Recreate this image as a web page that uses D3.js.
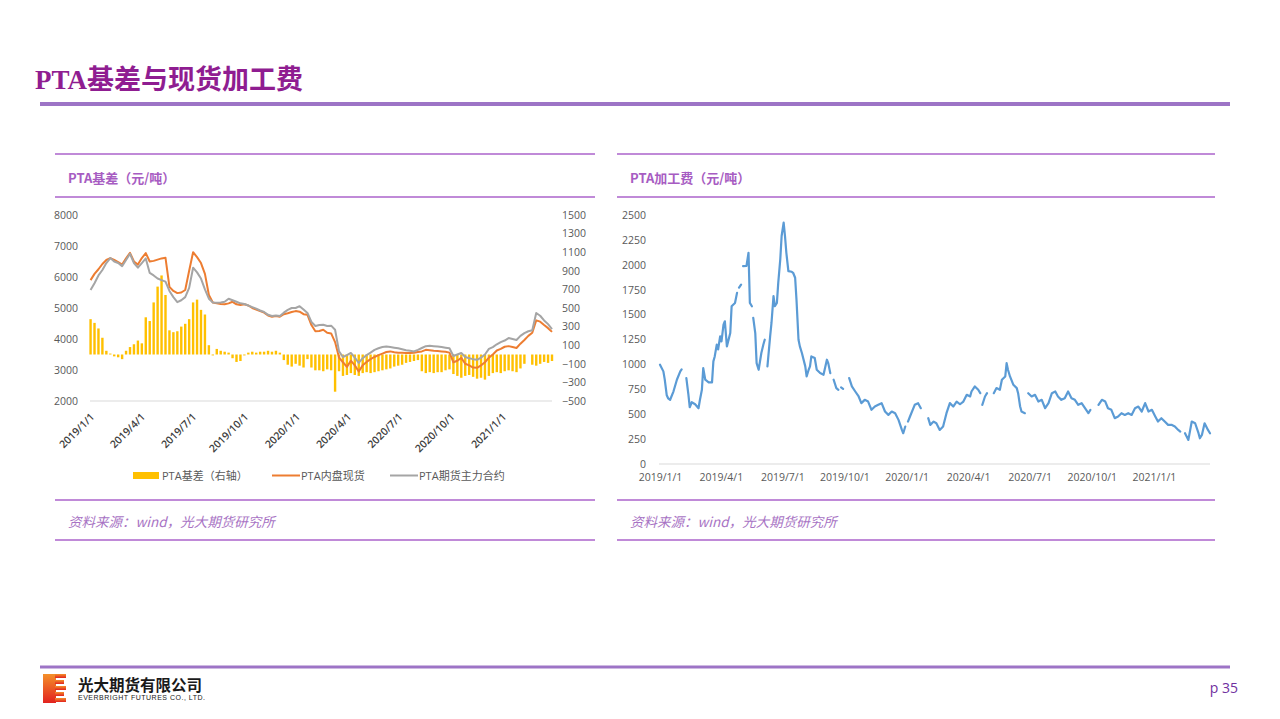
<!DOCTYPE html>
<html>
<head>
<meta charset="utf-8">
<script src="https://cdn.jsdelivr.net/npm/d3@7.9.0/dist/d3.min.js"></script>
<style>
  body { margin: 0; background: #fff; }
  svg { display: block; }
</style>
</head>
<body>
<svg id="page" width="1280" height="719"></svg>
<script>
// ============= DATA ==================

// PTA basis chart: weekly samples, first one on 2019-01-02
const basisStart = new Date(2019, 0, 2);
const basisStep = 7;

// PTA内盘现货 (元/吨, left axis)
const spot = [
  5900, 6100, 6250, 6420, 6550, 6610, 6550, 6480, 6400, 6600,
  6780, 6500, 6400, 6610, 6770, 6500, 6520, 6560, 6600, 6620,
  5680, 5550, 5480, 5500, 5580, 6200, 6800, 6640, 6450, 6100,
  5420, 5180, 5150, 5130, 5120, 5150, 5200, 5120, 5100, 5120,
  5080, 5000, 4950, 4900, 4850, 4760, 4720, 4740, 4720, 4800,
  4830, 4870, 4900, 4880, 4800, 4780, 4450, 4250, 4260, 4300,
  4200, 4180, 3900, 3400, 3250, 3100, 3300, 3150, 2950, 3150,
  3260, 3350, 3420, 3480, 3530, 3580, 3600, 3570, 3560, 3560,
  3550, 3550, 3560, 3580, 3600, 3650, 3640, 3620, 3610, 3600,
  3590, 3560, 3250, 3300, 3390, 3200, 3150, 3080, 3070, 3150,
  3250, 3400, 3500, 3630, 3680, 3750, 3770, 3740, 3710, 3850,
  3970, 4100, 4200, 4600, 4560, 4450, 4350, 4230
];

// PTA期货主力合约 (元/吨, left axis)
const futures = [
  5580, 5800, 6050, 6225, 6450, 6610, 6500, 6450, 6350, 6550,
  6750, 6450, 6300, 6450, 6600, 6130, 6050, 5950, 5900, 5850,
  5550, 5350, 5190, 5250, 5350, 5650, 6300, 6150, 5950, 5600,
  5300, 5180, 5170, 5180, 5200, 5300, 5250, 5200, 5150, 5130,
  5080, 5030, 4980, 4920, 4870, 4780, 4740, 4760, 4740, 4850,
  4940, 5000, 5000, 5060, 4950, 4840, 4550, 4420, 4450, 4460,
  4420, 4430, 4300, 3600, 3420, 3480, 3550, 3400, 3230, 3380,
  3480, 3560, 3650, 3700, 3740, 3760, 3740, 3720, 3700, 3670,
  3640, 3620, 3600, 3650, 3710, 3770, 3780, 3770, 3760, 3740,
  3720, 3700, 3450, 3500, 3550, 3420, 3380, 3350, 3330, 3400,
  3500, 3680, 3740, 3830, 3900, 3950, 4030, 4000, 3970, 4100,
  4190, 4250, 4280, 4840, 4750, 4600, 4480, 4320
];

// PTA基差 (元/吨, right axis)
const basis = [
  380, 340, 280, 180, 40, 10, -20, -30, -50, 40,
  80, 110, 150, 120, 400, 360, 560, 730, 850, 640,
  260, 240, 250, 300, 330, 380, 560, 590, 480, 430,
  100, -10, 60, 40, 30, 20, -40, -80, -70, -10,
  20, 30, 20, 30, 30, 40, 30, 40, 20, -60,
  -110, -130, -100, -120, -140, -50, -140, -170, -170, -180,
  -160, -170, -400, -180, -230, -220, -200, -220, -230, -200,
  -190, -200, -190, -180, -170, -160, -150, -130, -120, -110,
  -90, -80, -70, -60, -180, -200, -190, -200, -190, -190,
  -170, -160, -210, -230, -250, -230, -220, -240, -260, -250,
  -270, -230, -200, -190, -200, -180, -170, -180, -190, -150,
  -100, null, -110, -120, -100, -80, -90, -70
];

const leftTicks = [2000, 3000, 4000, 5000, 6000, 7000, 8000];
const rightTicks = [-500, -300, -100, 100, 300, 500, 700, 900, 1100, 1300, 1500];
const dateLabels = ["2019/1/1", "2019/4/1", "2019/7/1", "2019/10/1", "2020/1/1",
  "2020/4/1", "2020/7/1", "2020/10/1", "2021/1/1"];

// PTA加工费: days after 2019-01-01, null = gap in the line
const feeDays = [
  0, 5, 7, 10, 12, 15, 20, 25, 30, 32,
  35, 39, 42, 44, 47, 52, 57, 59, 62, 64,
  67, 72, 77, 79, 81, 84, 86, 89, 91, 94,
  96, 99, 104, 106, 111, 114, 116, 117, 120, 121,
  123, 128, 131, 133, 136, 137, 138, 141, 143, 146,
  150, 153, 155, 157, 159, 163, 165, 168, 170, 173,
  175, 178, 180, 183, 185, 187, 190, 195, 197, 200,
  202, 205, 207, 210, 215, 217, 220, 222, 224, 229,
  232, 237, 242, 247, 249, 252, 254, 257, 261, 264,
  266, 268, 271, 273, 280, 284, 289, 294, 298, 303,
  308, 313, 318, 323, 328, 333, 338, 343, 348, 353,
  358, 360, 363, 364, 367, 370, 377, 382, 386, 390,
  397, 400, 405, 409, 414, 419, 424, 429, 434, 439,
  444, 449, 454, 459, 461, 466, 471, 474, 475, 477,
  481, 484, 487, 494, 498, 503, 506, 511, 513, 515,
  518, 523, 528, 530, 533, 535, 540, 542, 545, 550,
  555, 560, 565, 570, 575, 580, 585, 589, 594, 599,
  604, 609, 614, 619, 624, 629, 634, 637, 640, 649,
  654, 659, 663, 668, 673, 678, 683, 688, 693, 698,
  703, 708, 713, 718, 723, 728, 733, 737, 742, 747,
  752, 757, 762, 767, 770, 773, 777, 782, 787, 792,
  797, 799, 802, 806, 811, 814
];
const feeValues = [
  997, 930, 850, 690, 660, 645, 730, 846, 930, 950,
  null, 862, 700, 570, 620, 600, 560, 640, 745, 963,
  846, 820, 820, 1030, 1080, 1198, 1150, 1282, 1230, 1400,
  1433, 1181, 1315, 1584, 1617, 1718, null, 1770, 1800, null,
  1987, 1990, 2121, 1617, 1584, null, 1467, 1315, 1013, 946,
  1114, 1200, 1248, null, 980, 1282, 1416, 1685, 1584, 1617,
  1819, 2054, 2289, 2423, 2289, 2121, 1936, 1930, 1920, 1870,
  1651, 1248, 1181, 1114, 980, 880, 946, 980, 1080, 1064,
  946, 913, 896, 1047, 1013, 913, null, 846, 762, 745,
  null, 770, 755, null, 862, 779, 728, 678, 611, 644,
  627, 544, 577, 594, 611, 527, 493, 527, 510, 443,
  342, 309, 376, null, 426, 477, 594, 611, 560, null,
  460, 393, 426, 409, 342, 376, 510, 611, 577, 627,
  600, 627, 695, 678, 728, 779, 745, 711, null, 594,
  678, 711, null, 711, 762, 745, 846, 879, 1013, 946,
  879, 795, 762, 711, 577, 527, 510, null, 711, 678,
  695, 627, 644, 560, 611, 711, 728, 678, 644, 661,
  728, 661, 644, 594, 611, 560, 510, 543, null, 594,
  644, 627, 560, 544, 460, 477, 510, 493, 510, 493,
  560, 577, 527, 611, 527, 544, 477, 426, 460, 426,
  393, 393, 376, 342, 326, null, 309, 242, 426, 409,
  309, 258, 292, 409, 342, 309
];
const feeTicks = [0, 250, 500, 750, 1000, 1250, 1500, 1750, 2000, 2250, 2500];

// ============= PAGE FRAME ==================

const svg = d3.select("#page");
const purple = "#9d74c6";
const panelLine = "#c08ad8";
const cjk = "'Noto Sans CJK SC', sans-serif";
const axisFont = "'Open Sans', 'Noto Sans CJK SC', sans-serif";
const parseLabel = d3.timeParse("%Y/%m/%d");
const tickDates = dateLabels.map(parseLabel);
const plain = d3.format("d");

svg.append("text")
  .attr("x", 35).attr("y", 89)
  .attr("font-family", "'Liberation Serif', 'Noto Sans CJK SC', serif")
  .attr("font-weight", "bold")
  .attr("font-size", 27)
  .attr("fill", "#8f1d91")
  .text("PTA基差与现货加工费");

svg.append("rect")
  .attr("x", 40).attr("y", 102).attr("width", 1190).attr("height", 4)
  .attr("fill", purple);

function panel(x0, x1, title) {
  [154, 197, 500, 540].forEach(y => {
    svg.append("line")
      .attr("x1", x0).attr("x2", x1).attr("y1", y).attr("y2", y)
      .attr("stroke", panelLine).attr("stroke-width", 2);
  });
  svg.append("text")
    .attr("x", x0 + 13).attr("y", 183)
    .attr("font-family", cjk).attr("font-weight", "bold").attr("font-size", 13)
    .attr("fill", "#a75cc2")
    .text(title);
  svg.append("text")
    .attr("x", x0 + 13).attr("y", 527)
    .attr("font-family", cjk).attr("font-style", "italic").attr("font-size", 13.5)
    .attr("fill", "#a873c4")
    .text("资料来源：wind，光大期货研究所");
}
panel(55, 595, "PTA基差（元/吨）");
panel(617, 1215, "PTA加工费（元/吨）");

function styleAxis(g) {
  g.select(".domain").remove();
  g.selectAll("text")
    .attr("font-family", axisFont).attr("font-size", 10.5).attr("fill", "#595959");
}

// ============= LEFT: BASIS CHART ==================

const weeks = spot.map((_, i) => d3.timeDay.offset(basisStart, i * basisStep));
const rows = weeks.map((d, i) => ({ date: d, spot: spot[i], fut: futures[i], basis: basis[i] }));

const xL = d3.scaleTime().domain([new Date(2019, 0, 1), new Date(2021, 2, 31)]).range([90, 552]);
const yL = d3.scaleLinear().domain([2000, 8000]).range([401, 215]);
const yR = d3.scaleLinear().domain([-500, 1500]).range([401, 215]);

const left = svg.append("g");

left.append("g")
  .attr("transform", "translate(90,0)")
  .call(d3.axisLeft(yL).tickValues(leftTicks).tickFormat(plain).tickSize(0).tickPadding(12))
  .call(styleAxis);

left.append("g")
  .attr("transform", "translate(552,0)")
  .call(d3.axisRight(yR).tickValues(rightTicks).tickFormat(plain).tickSize(0).tickPadding(10))
  .call(styleAxis);

left.selectAll("rect.bar")
  .data(rows.filter(d => d.basis != null))
  .join("rect")
  .attr("class", "bar")
  .attr("x", d => xL(d.date) - 1.2)
  .attr("width", 2.4)
  .attr("y", d => Math.min(yR(0), yR(d.basis)))
  .attr("height", d => Math.abs(yR(d.basis) - yR(0)))
  .attr("fill", "#FFC000");

left.append("line")
  .attr("x1", 90).attr("x2", 552).attr("y1", 401).attr("y2", 401)
  .attr("stroke", "#d9d9d9").attr("stroke-width", 1.2);

const xAxisL = left.append("g")
  .attr("transform", "translate(0,401)")
  .call(d3.axisBottom(xL).tickValues(tickDates).tickSize(0)
    .tickFormat((d, i) => dateLabels[i]))
  .call(styleAxis);
xAxisL.selectAll("text")
  .attr("text-anchor", "end")
  .attr("font-weight", 600)
  .attr("fill", "#404040")
  .attr("x", 0).attr("y", 0).attr("dy", "0.35em")
  .attr("transform", "translate(2,14) rotate(-45)");

const lineSpot = d3.line().x(d => xL(d.date)).y(d => yL(d.spot));
const lineFut = d3.line().x(d => xL(d.date)).y(d => yL(d.fut));

left.append("path").datum(rows)
  .attr("d", lineSpot).attr("fill", "none")
  .attr("stroke", "#ED7D31").attr("stroke-width", 2).attr("stroke-linejoin", "round");
left.append("path").datum(rows)
  .attr("d", lineFut).attr("fill", "none")
  .attr("stroke", "#A5A5A5").attr("stroke-width", 2).attr("stroke-linejoin", "round");

// legend
const legend = [
  { label: "PTA基差（右轴）", color: "#FFC000", type: "rect", x: 133 },
  { label: "PTA内盘现货", color: "#ED7D31", type: "line", x: 272 },
  { label: "PTA期货主力合约", color: "#A5A5A5", type: "line", x: 390 }
];
const lg = left.append("g");
legend.forEach(l => {
  if (l.type === "rect") {
    lg.append("rect").attr("x", l.x).attr("y", 472).attr("width", 26).attr("height", 7).attr("fill", l.color);
  } else {
    lg.append("line").attr("x1", l.x).attr("x2", l.x + 28).attr("y1", 475.5).attr("y2", 475.5)
      .attr("stroke", l.color).attr("stroke-width", 2);
  }
  lg.append("text")
    .attr("x", l.x + 29).attr("y", 479.5)
    .attr("font-family", axisFont).attr("font-size", 11).attr("fill", "#595959")
    .text(l.label);
});

// ============= RIGHT: PROCESSING FEE ==================

const fee = feeDays.map((d, i) => ({ date: d3.timeDay.offset(new Date(2019, 0, 1), d), v: feeValues[i] }));

const xF = d3.scaleTime().domain([new Date(2019, 0, 1), new Date(2021, 2, 25)]).range([660, 1210]);
const yF = d3.scaleLinear().domain([0, 2500]).range([464, 215]);

const right = svg.append("g");

right.append("g")
  .attr("transform", "translate(659,0)")
  .call(d3.axisLeft(yF).tickValues(feeTicks).tickFormat(plain).tickSize(0).tickPadding(13))
  .call(styleAxis);

right.append("line")
  .attr("x1", 659).attr("x2", 1210).attr("y1", 464).attr("y2", 464)
  .attr("stroke", "#d9d9d9").attr("stroke-width", 1.2);

right.append("g")
  .attr("transform", "translate(0,464)")
  .call(d3.axisBottom(xF).tickValues(tickDates).tickSize(0).tickPadding(10)
    .tickFormat((d, i) => dateLabels[i]))
  .call(styleAxis);

const lineFee = d3.line()
  .defined(d => d.v != null)
  .x(d => xF(d.date))
  .y(d => yF(d.v));

right.append("path").datum(fee)
  .attr("d", lineFee).attr("fill", "none")
  .attr("stroke", "#5B9BD5").attr("stroke-width", 2.2)
  .attr("stroke-linejoin", "round").attr("stroke-linecap", "round");

// ============= FOOTER ==================

svg.append("rect")
  .attr("x", 40).attr("y", 665.5).attr("width", 1190).attr("height", 3)
  .attr("fill", purple);

const defs = svg.append("defs");
const grad = defs.append("linearGradient").attr("id", "logoGrad")
  .attr("x1", 0).attr("y1", 0).attr("x2", 0).attr("y2", 1);
grad.append("stop").attr("offset", "0%").attr("stop-color", "#f4902a");
grad.append("stop").attr("offset", "100%").attr("stop-color", "#e2231f");

const logo = svg.append("g").attr("fill", "url(#logoGrad)");
logo.append("rect").attr("x", 43).attr("y", 674).attr("width", 13).attr("height", 29);
d3.range(5).forEach(k => {
  logo.append("rect").attr("x", 55).attr("y", 674 + k * 6).attr("width", 11 - (k % 2) * 2).attr("height", 4);
});

svg.append("text")
  .attr("x", 78).attr("y", 691)
  .attr("font-family", cjk).attr("font-weight", "bold").attr("font-size", 15.5)
  .attr("fill", "#1a1a1a")
  .text("光大期货有限公司");
svg.append("text")
  .attr("x", 78).attr("y", 700)
  .attr("font-family", "'Liberation Sans', sans-serif").attr("font-size", 7)
  .attr("textLength", 127)
  .attr("fill", "#1a1a1a")
  .text("EVERBRIGHT FUTURES CO., LTD.");

svg.append("text")
  .attr("x", 1238).attr("y", 693)
  .attr("text-anchor", "end")
  .attr("font-family", "'Open Sans', sans-serif").attr("font-size", 14)
  .attr("fill", "#7030a0")
  .text("p 35");
</script>
</body>
</html>
